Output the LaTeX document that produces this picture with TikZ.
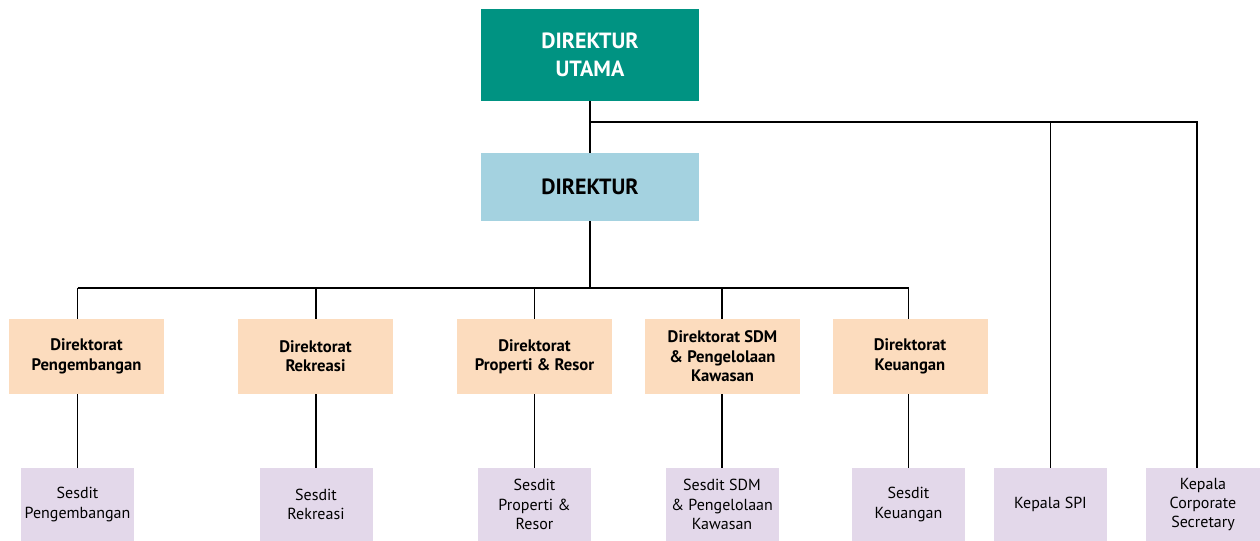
\documentclass[tikz,border=0pt]{standalone}
\usepackage{fontspec}
\setmainfont{PT Sans}
\usepackage{tikz}
\usepackage{xcolor}
\usetikzlibrary{positioning, calc}

\definecolor{hijau}{HTML}{009382}
\definecolor{birumuda}{HTML}{A4D2E0}
\definecolor{oranye}{HTML}{FCDCBE}
\definecolor{ungu}{HTML}{E3D8EA}

\begin{document}
\begin{tikzpicture}[x=0.75pt, y=-0.75pt,
    kotak/.style={inner sep=0pt, align=center},
    utama/.style={kotak, fill=hijau, text=white, minimum width=163.5pt, minimum height=69pt,
        font=\fontsize{16.5}{21}\selectfont\bfseries},
    dirbox/.style={kotak, fill=birumuda, minimum width=163.5pt, minimum height=51pt,
        font=\fontsize{16.5}{21}\selectfont\bfseries},
    dirat/.style={kotak, fill=oranye, minimum width=116.25pt, minimum height=56.25pt,
        font=\fontsize{12.5}{14.5}\selectfont\bfseries},
    sesdit/.style={kotak, fill=ungu, minimum width=84.75pt, minimum height=54.75pt,
        font=\fontsize{12}{14.5}\selectfont},
    garis/.style={line width=1.3pt}]
    \useasboundingbox (0,0) rectangle (1260,541);

    % pimpinan
    \node[utama] (dirut) at (590,55) {DIREKTUR\\UTAMA};
    \node[dirbox] (dir) at (590,187) {DIREKTUR};

    % direktorat
    \node[dirat] (dir1) at (86.5,356.5) {Direktorat\\Pengembangan};
    \node[dirat] (dir2) at (315.5,356.5) {Direktorat\\Rekreasi};
    \node[dirat] (dir3) at (534.5,356.5) {Direktorat\\Properti \& Resor};
    \node[dirat] (dir4) at (722.5,356.5) {Direktorat SDM\\\& Pengelolaan\\Kawasan};
    \node[dirat] (dir5) at (910,356.5) {Direktorat\\Keuangan};

    % sesdit dan unit di bawah dirut
    \node[sesdit] (ses1) at (77.5,504.5) {Sesdit\\Pengembangan};
    \node[sesdit] (ses2) at (316,504.5) {Sesdit\\Rekreasi};
    \node[sesdit] (ses3) at (534.5,504.5) {Sesdit\\Properti \&\\Resor};
    \node[sesdit] (ses4) at (722,504.5) {Sesdit SDM\\\& Pengelolaan\\Kawasan};
    \node[sesdit] (ses5) at (908.5,504.5) {Sesdit\\Keuangan};
    \node[sesdit] (spi) at (1050.5,504.5) {Kepala SPI};
    \node[sesdit, minimum width=85.5pt] (sekper) at (1203,504.5) {Kepala\\Corporate\\Secretary};

    % garis dari dirut
    \coordinate (jalur) at (590,122);
    \coordinate (cs) at (1197,122);
    \draw[garis] (dirut.south) -- (dir.north);
    \draw[garis] (jalur) -- (cs) -- (cs |- sekper.north);
    \draw[garis] (spi.north |- jalur) -- (spi.north);

    % garis dari direktur
    \coordinate (bagi) at (590,288);
    \draw[garis] (dir.south) -- (bagi);
    \draw[garis] (ses1.north |- bagi) -- (ses5.north |- bagi);
    \foreach \i in {1,...,5} {
        \draw[garis] (ses\i.north |- bagi) -- (ses\i.north |- dir\i.north);
        \draw[garis] (ses\i.north |- dir\i.south) -- (ses\i.north);
    }
\end{tikzpicture}
\end{document}
